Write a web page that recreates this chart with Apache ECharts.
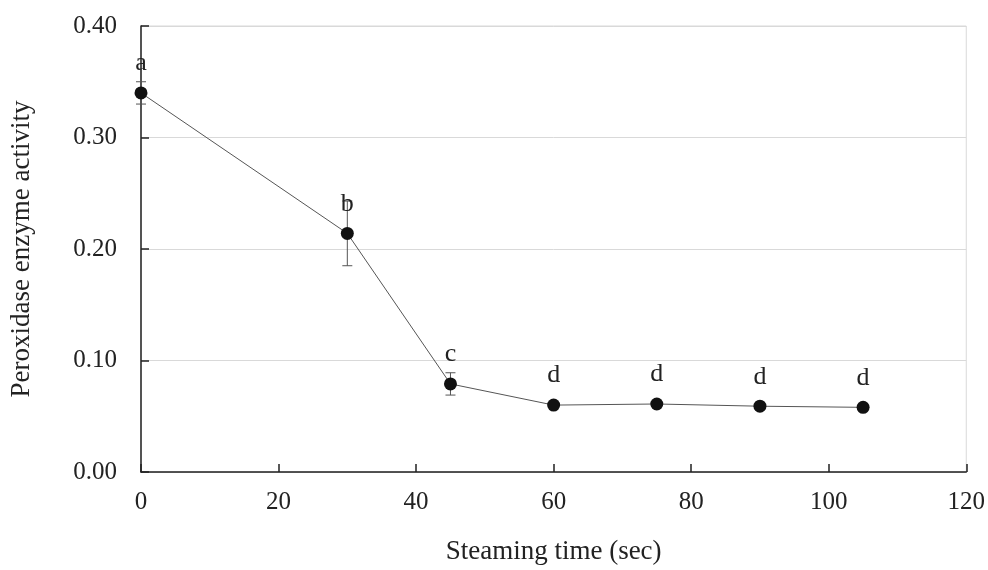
<!DOCTYPE html>
<html>
<head>
<meta charset="utf-8">
<script src="https://cdn.jsdelivr.net/npm/echarts@6/dist/echarts.min.js"></script>
<style>html,body{margin:0;padding:0;background:#fff}#c{width:988px;height:570px}</style>
</head>
<body>
<div id="c"></div>
<script>
const times = [0, 30, 45, 60, 75, 90, 105];
const activity = [0.340, 0.214, 0.079, 0.060, 0.061, 0.059, 0.058];
const errors = [0.010, 0.029, 0.010, 0.002, 0.002, 0.002, 0.002];
const letters = ['a', 'b', 'c', 'd', 'd', 'd', 'd'];
const xTicks = [0, 20, 40, 60, 80, 100, 120];
const yTicks = [0.00, 0.10, 0.20, 0.30, 0.40];

const FONT = '"Liberation Serif", "Times New Roman", serif';
const chart = echarts.init(document.getElementById('c'));

const pts = times.map((t, i) => [t, activity[i]]);
const errData = times.map((t, i) => [t, activity[i] - errors[i], activity[i] + errors[i]]);

chart.setOption({
  animation: false,
  grid: { left: 140, right: 21, top: 26, bottom: 98, show: true, borderColor: '#d9d9d9', borderWidth: 1, backgroundColor: 'transparent' },
  xAxis: {
    type: 'value', min: xTicks[0], max: xTicks[xTicks.length - 1], interval: 20,
    name: 'Steaming time (sec)', nameLocation: 'middle', nameGap: 66,
    nameTextStyle: { fontFamily: FONT, fontSize: 27, color: '#222' },
    axisLine: { show: true, lineStyle: { color: '#222', width: 1.5 } },
    axisTick: { show: true, inside: true, length: 8, lineStyle: { color: '#222', width: 1.5 } },
    axisLabel: { fontFamily: FONT, fontSize: 25, color: '#222', margin: 18 },
    splitLine: { show: false }
  },
  yAxis: {
    type: 'value', min: yTicks[0], max: yTicks[yTicks.length - 1], interval: 0.1,
    name: 'Peroxidase enzyme activity', nameLocation: 'middle', nameGap: 106,
    nameTextStyle: { fontFamily: FONT, fontSize: 27, color: '#222' },
    axisLine: { show: true, lineStyle: { color: '#222', width: 1.5 } },
    axisTick: { show: true, inside: true, length: 8, lineStyle: { color: '#222', width: 1.5 } },
    axisLabel: { fontFamily: FONT, fontSize: 25, color: '#222', margin: 24, formatter: v => v.toFixed(2) },
    splitLine: { show: true, lineStyle: { color: '#d9d9d9', width: 1 } }
  },
  series: [
    {
      type: 'custom',
      z: 1,
      renderItem: function (params, api) {
        const x = api.value(0);
        const lo = api.coord([x, api.value(1)]);
        const hi = api.coord([x, api.value(2)]);
        const cap = 5;
        const style = { stroke: '#555', lineWidth: 1 };
        return {
          type: 'group',
          children: [
            { type: 'line', shape: { x1: lo[0], y1: lo[1], x2: hi[0], y2: hi[1] }, style },
            { type: 'line', shape: { x1: lo[0] - cap, y1: lo[1], x2: lo[0] + cap, y2: lo[1] }, style },
            { type: 'line', shape: { x1: hi[0] - cap, y1: hi[1], x2: hi[0] + cap, y2: hi[1] }, style }
          ]
        };
      },
      encode: { x: 0, y: [1, 2] },
      data: errData
    },
    {
      type: 'line',
      z: 2,
      data: pts,
      symbol: 'circle',
      symbolSize: 13,
      itemStyle: { color: '#111' },
      lineStyle: { color: '#555', width: 1 },
      label: {
        show: true, position: 'top', distance: 10,
        fontFamily: FONT, fontSize: 26, color: '#222',
        formatter: p => letters[p.dataIndex]
      }
    }
  ]
});
</script>
</body>
</html>
